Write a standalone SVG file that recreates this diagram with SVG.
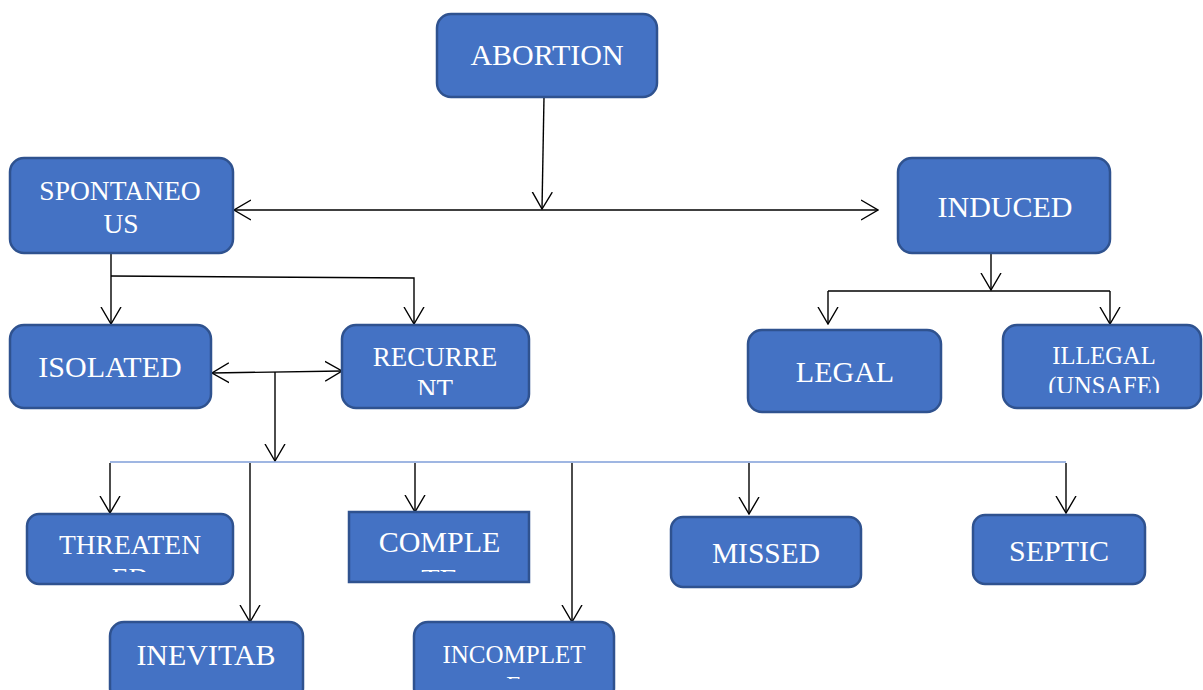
<svg xmlns="http://www.w3.org/2000/svg" width="1203" height="690" viewBox="0 0 1203 690">
<style>
.box{fill:#4472C4;stroke:#2F528F;stroke-width:2.5}
.t{font-family:"Liberation Serif","Times New Roman",serif;fill:#FFFFFF;text-anchor:middle}
.c{fill:none;stroke:#000;stroke-width:1.4}
.bl{fill:none;stroke:#7F9ED8;stroke-width:1.6}
</style>
<defs>
<marker id="ah" markerUnits="userSpaceOnUse" viewBox="0 0 18 22" refX="17" refY="11" markerWidth="18" markerHeight="22" orient="auto-start-reverse">
<path d="M0,1 L17,11 L0,21" fill="none" stroke="#000" stroke-width="1.4"/>
</marker>
<clipPath id="cRec"><rect x="342" y="325" width="188" height="70"/></clipPath>
<clipPath id="cIll"><rect x="1003" y="325" width="200" height="68"/></clipPath>
<clipPath id="cThr"><rect x="27" y="514" width="206" height="58"/></clipPath>
<clipPath id="cCom"><rect x="349" y="512" width="181" height="60"/></clipPath>
<clipPath id="cInc"><rect x="414" y="622" width="200" height="57"/></clipPath>
</defs>
<g id="connectors">
<path class="c" d="M544,97 L542,209" marker-end="url(#ah)"/>
<path class="c" d="M234,210 L878,210" marker-start="url(#ah)" marker-end="url(#ah)"/>
<path class="c" d="M991,253 L991,290" marker-end="url(#ah)"/>
<path class="c" d="M828,291 L1110,291"/>
<path class="c" d="M828,291 L828,324" marker-end="url(#ah)"/>
<path class="c" d="M1110,291 L1110,324" marker-end="url(#ah)"/>
<path class="c" d="M111,253 L111,324" marker-end="url(#ah)"/>
<path class="c" d="M111,276 L414,278 L414,324" marker-end="url(#ah)"/>
<path class="c" d="M212,373 L342,371" marker-start="url(#ah)" marker-end="url(#ah)"/>
<path class="c" d="M275,372 L275,461" marker-end="url(#ah)"/>
<path class="bl" d="M110,462 L1066,462"/>
<path class="c" d="M110,463 L110,513" marker-end="url(#ah)"/>
<path class="c" d="M250,463 L250,622" marker-end="url(#ah)"/>
<path class="c" d="M415,463 L415,512" marker-end="url(#ah)"/>
<path class="c" d="M572,463 L572,622" marker-end="url(#ah)"/>
<path class="c" d="M749,463 L749,514" marker-end="url(#ah)"/>
<path class="c" d="M1066,463 L1066,513" marker-end="url(#ah)"/>
</g>
<g id="abortion"><rect class="box" x="437" y="14" width="220" height="83" rx="14"/><text class="t" x="547" y="65" font-size="30">ABORTION</text></g>
<g id="spontaneous"><rect class="box" x="10" y="158" width="223" height="95" rx="14"/><text class="t" x="120" y="200" font-size="27.5">SPONTANEO</text><text class="t" x="121" y="233" font-size="27.5">US</text></g>
<g id="induced"><rect class="box" x="898" y="158" width="212" height="95" rx="14"/><text class="t" x="1005" y="217" font-size="30">INDUCED</text></g>
<g id="isolated"><rect class="box" x="10" y="325" width="201" height="83" rx="14"/><text class="t" x="110" y="377" font-size="30">ISOLATED</text></g>
<g id="recurrent"><rect class="box" x="342" y="325" width="187" height="83" rx="14"/><g clip-path="url(#cRec)"><text class="t" x="435" y="366" font-size="27">RECURRE</text><text class="t" x="435" y="398" font-size="27">NT</text></g></g>
<g id="legal"><rect class="box" x="748" y="330" width="193" height="82" rx="14"/><text class="t" x="845" y="382" font-size="30">LEGAL</text></g>
<g id="illegal"><rect class="box" x="1003" y="325" width="198" height="83" rx="14"/><g clip-path="url(#cIll)"><text class="t" x="1104" y="364" font-size="24.5">ILLEGAL</text><text class="t" x="1104" y="394" font-size="24.5">(UNSAFE)</text></g></g>
<g id="threatened"><rect class="box" x="27" y="514" width="206" height="70" rx="12"/><g clip-path="url(#cThr)"><text class="t" x="130" y="554" font-size="27.5">THREATEN</text><text class="t" x="130" y="587" font-size="27.5">ED</text></g></g>
<g id="complete"><rect class="box" x="349" y="512" width="180" height="70"/><g clip-path="url(#cCom)"><text class="t" x="439.5" y="552" font-size="30">COMPLE</text><text class="t" x="439.5" y="589" font-size="30">TE</text></g></g>
<g id="missed"><rect class="box" x="671" y="517" width="190" height="70" rx="12"/><text class="t" x="766" y="563" font-size="29.5">MISSED</text></g>
<g id="septic"><rect class="box" x="973" y="515" width="172" height="69" rx="12"/><text class="t" x="1059" y="561" font-size="30">SEPTIC</text></g>
<g id="inevitable"><rect class="box" x="110" y="622" width="193" height="80" rx="14"/><text class="t" x="206" y="665" font-size="30">INEVITAB</text></g>
<g id="incomplete"><rect class="box" x="414" y="622" width="200" height="80" rx="14"/><g clip-path="url(#cInc)"><text class="t" x="514" y="663" font-size="25">INCOMPLET</text><text class="t" x="514" y="694" font-size="25">E</text></g></g>
</svg>
